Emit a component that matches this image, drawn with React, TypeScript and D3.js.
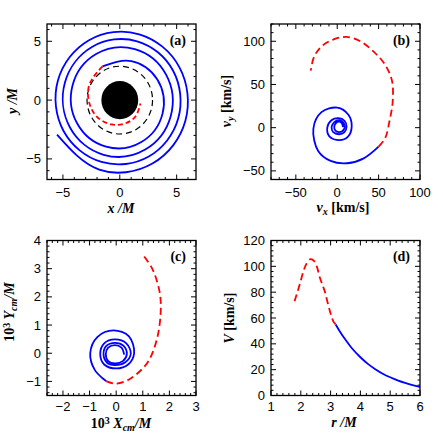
import React from "react";
import * as d3 from "d3";

// ---- panel (a): orbit in the x-y plane, stored as [angle in degrees, r/M]
const orbitInspiral: [number, number][] = [
  [208, 6.25], [253, 6.18], [298, 6.11], [343, 6.03], [388, 5.94], [433, 5.85],
  [478, 5.77], [523, 5.69], [568, 5.6], [613, 5.5], [658, 5.43], [703, 5.37],
  [748, 5.31], [793, 5.23], [838, 5.14], [883, 5.05], [928, 4.96], [973, 4.86],
  [1018, 4.76], [1063, 4.68], [1108, 4.61], [1153, 4.53], [1198, 4.44], [1243, 4.34],
  [1288, 4.24], [1333, 4.14], [1378, 4.04], [1423, 3.93], [1468, 3.74], [1513, 3.47],
  [1558, 3.24],
];
const orbitPlunge: [number, number][] = [
  [118, 3.24], [150, 3.0], [180, 2.74], [214, 2.47], [250, 2.2], [282, 2.04],
  [314, 1.96], [351, 1.84],
];
const horizonRadius = 1.62;
const iscoRadius = 2.88;

// ---- panel (b): velocity of the remnant [vx, vy] in km/s
const velInspiral: [number, number][] = [
  [7.0, 0.8], [5.5, 5.2], [2.2, 6.9], [-1.5, 5.2], [-3.6, 0.8], [-2.2, -3.5],
  [2.0, -5.2], [6.5, -3.8], [9.0, 0.8], [7.2, 6.2], [2.0, 8.6], [-3.5, 6.5],
  [-6.8, 0.6], [-4.8, -5.2], [2.0, -7.6], [8.5, -5.5], [11.3, 1.0], [8.8, 8.0],
  [1.5, 11.0], [-7.0, 8.5], [-12.0, 0.0], [-9.5, -10.0], [2.5, -14.5], [13.0, -10.5],
  [17.5, 1.5], [13.5, 15.0], [0.0, 23.2], [-19.0, 18.0], [-28.8, -1.0], [-23.0, -27.0],
  [-8.0, -38.5], [12.0, -41.2], [32.0, -35.5], [50.0, -22.0],
];
const velPlunge: [number, number][] = [
  [50, -22], [58, -12], [63, 7], [67, 30], [66, 55], [57, 74], [44, 88], [28, 100],
  [11, 105], [-5, 102], [-19, 94], [-28, 82], [-32, 66],
];

// ---- panel (c): centre-of-mass track, 10^3 X_cm/M and 10^3 Y_cm/M
const cmInspiral: [number, number][] = [
  [0.3, -0.05], [0.2, 0.2], [-0.05, 0.29], [-0.3, 0.2], [-0.39, -0.03], [-0.3, -0.28],
  [-0.05, -0.36], [0.25, -0.28], [0.4, -0.03], [0.27, 0.27], [-0.05, 0.37], [-0.37, 0.26],
  [-0.475, -0.03], [-0.35, -0.33], [-0.05, -0.42], [0.33, -0.33], [0.55, -0.02], [0.38, 0.35],
  [-0.05, 0.49], [-0.45, 0.35], [-0.6, -0.03], [-0.45, -0.4], [0.0, -0.54], [0.45, -0.4],
  [0.675, 0.0], [0.48, 0.6], [-0.1, 0.81], [-0.7, 0.58], [-0.975, 0.0], [-0.8, -0.6],
  [-0.375, -0.99],
];
const cmPlunge: [number, number][] = [
  [-0.375, -0.99], [-0.04, -1.08], [0.45, -0.95], [0.9, -0.63], [1.2, -0.3], [1.4, 0.1],
  [1.58, 0.7], [1.67, 1.4], [1.66, 2.0], [1.55, 2.5], [1.34, 3.03], [1.0, 3.5],
];

// ---- panel (d): speed V (km/s) against separation r/M
const speedPlungeR = [1.79, 1.9, 2.0, 2.1, 2.2, 2.33, 2.45, 2.55, 2.63, 2.72, 2.8, 2.91, 3.02, 3.1, 3.17];
const speedPlungeV = [73, 81, 89, 97, 102.5, 105.5, 104, 99, 92, 86, 81, 71, 62, 57, 55];
const speedInspiralR = [3.17, 3.3, 3.5, 3.7, 4.0, 4.25, 4.5, 4.75, 5.0, 5.25, 5.5, 5.75, 6.0];
const speedInspiralV = [55, 50, 43.1, 37, 29.6, 24.5, 20.4, 16.9, 14.1, 11.7, 9.7, 8.1, 6.7];

// ---- axis ticks
const ticksA = [-5, 0, 5];
const ticksBx = [-50, 0, 50, 100];
const ticksBy = [-50, 0, 50, 100];
const ticksCx = [-2, -1, 0, 1, 2, 3];
const ticksCy = [-1, 0, 1, 2, 3, 4];
const ticksDx = [1, 2, 3, 4, 5, 6];
const ticksDy = [0, 20, 40, 60, 80, 100, 120];

const BLUE = "#0000ff";
const RED = "#ff0000";
const SANS = "'Liberation Sans', Arial, sans-serif";
const SERIF = "'Liberation Serif', 'Times New Roman', serif";

const cols = [[47, 196], [271, 420]];
const rows = [[24, 179.5], [240.5, 395.5]];

type Scale = d3.ScaleLinear<number, number>;

function Frame({ xs, ys, xMajor, yMajor, xMinor, yMinor, tag, labelGap }: {
  xs: Scale; ys: Scale; xMajor: number[]; yMajor: number[]; xMinor: number; yMinor: number;
  tag: string; labelGap: number;
}) {
  const [x0, x1] = xs.range();
  const [y1, y0] = ys.range();
  const [dx0, dx1] = xs.domain();
  const [dy0, dy1] = ys.domain();
  const eps = 1e-9;
  const xm = d3.range(Math.ceil(dx0 / xMinor - eps) * xMinor, dx1 + eps, xMinor);
  const ym = d3.range(Math.ceil(dy0 / yMinor - eps) * yMinor, dy1 + eps, yMinor);
  const isMajor = (v: number, list: number[]) => list.some((m) => Math.abs(m - v) < 1e-6);
  const fmt = (v: number) => (v < 0 ? "\u2212" + Math.abs(v) : String(v));
  return (
    <g>
      {xm.map((v, i) => {
        const len = isMajor(v, xMajor) ? 5 : 2.5;
        const px = xs(v);
        return (
          <g key={"x" + i} stroke="#000" strokeWidth={1}>
            <line x1={px} x2={px} y1={y1} y2={y1 - len} />
            <line x1={px} x2={px} y1={y0} y2={y0 + len} />
          </g>
        );
      })}
      {ym.map((v, i) => {
        const len = isMajor(v, yMajor) ? 5 : 2.5;
        const py = ys(v);
        return (
          <g key={"y" + i} stroke="#000" strokeWidth={1}>
            <line x1={x0} x2={x0 + len} y1={py} y2={py} />
            <line x1={x1} x2={x1 - len} y1={py} y2={py} />
          </g>
        );
      })}
      <rect x={x0} y={y0} width={x1 - x0} height={y1 - y0} fill="none" stroke="#000" strokeWidth={1.3} />
      {xMajor.map((v) => (
        <text key={"xl" + v} x={xs(v)} y={y1 + labelGap} textAnchor="middle" fontFamily={SANS} fontSize={13}>
          {fmt(v)}
        </text>
      ))}
      {yMajor.map((v) => (
        <text key={"yl" + v} x={x0 - 6} y={ys(v) + 4.5} textAnchor="end" fontFamily={SANS} fontSize={13}>
          {fmt(v)}
        </text>
      ))}
      <text x={x1 - 10} y={y0 + 20.5} textAnchor="end" fontFamily={SERIF} fontSize={14} fontWeight="bold">
        {tag}
      </text>
    </g>
  );
}

function PanelA() {
  const xs = d3.scaleLinear().domain([-6.4, 6.7]).range(cols[0]);
  const ys = d3.scaleLinear().domain([-6.75, 6.47]).range([rows[0][1], rows[0][0]]);
  const rad = Math.PI / 180;
  const line = d3.line<[number, number]>()
    .x((d) => xs(d[1] * Math.cos(d[0] * rad)))
    .y((d) => ys(d[1] * Math.sin(d[0] * rad)))
    .curve(d3.curveNatural);
  return (
    <g>
      <ellipse cx={xs(0)} cy={ys(0)} rx={xs(horizonRadius) - xs(0)} ry={ys(0) - ys(horizonRadius)} fill="#000" />
      <ellipse cx={xs(0)} cy={ys(0)} rx={xs(iscoRadius) - xs(0)} ry={ys(0) - ys(iscoRadius)} fill="none"
        stroke="#000" strokeWidth={1.2} strokeDasharray="6,4" />
      <path d={line(orbitInspiral) ?? ""} fill="none" stroke={BLUE} strokeWidth={1.8} />
      <path d={line(orbitPlunge) ?? ""} fill="none" stroke={RED} strokeWidth={1.8} strokeDasharray="5,3" />
      <Frame xs={xs} ys={ys} xMajor={ticksA} yMajor={ticksA} xMinor={1} yMinor={1} tag="(a)" labelGap={17.5} />
      <text x={121} y={212.5} textAnchor="middle" fontFamily={SERIF} fontSize={14} fontStyle="italic" fontWeight="bold">
        x /M
      </text>
      <text transform="translate(16.5,101) rotate(-90)" textAnchor="middle" fontFamily={SERIF} fontSize={14}
        fontStyle="italic" fontWeight="bold">
        y /M
      </text>
    </g>
  );
}

function PanelB() {
  const xs = d3.scaleLinear().domain([-80, 100]).range(cols[1]);
  const ys = d3.scaleLinear().domain([-60, 120]).range([rows[0][1], rows[0][0]]);
  const line = d3.line<[number, number]>().x((d) => xs(d[0])).y((d) => ys(d[1]))
    .curve(d3.curveCatmullRom.alpha(0.5));
  return (
    <g>
      <path d={line(velInspiral) ?? ""} fill="none" stroke={BLUE} strokeWidth={1.8} />
      <path d={line(velPlunge) ?? ""} fill="none" stroke={RED} strokeWidth={1.8} strokeDasharray="7,4" />
      <Frame xs={xs} ys={ys} xMajor={ticksBx} yMajor={ticksBy} xMinor={10} yMinor={10} tag="(b)" labelGap={17.5} />
      <text x={343} y={212} textAnchor="middle" fontFamily={SERIF} fontSize={14} fontWeight="bold">
        <tspan fontStyle="italic">v</tspan>
        <tspan fontStyle="italic" fontSize={10} dy={3}>x</tspan>
        <tspan dy={-3}> [km/s]</tspan>
      </text>
      <text transform="translate(230.5,101) rotate(-90)" textAnchor="middle" fontFamily={SERIF} fontSize={14}
        fontWeight="bold">
        <tspan fontStyle="italic">v</tspan>
        <tspan fontStyle="italic" fontSize={10} dy={3}>y</tspan>
        <tspan dy={-3}> [km/s]</tspan>
      </text>
    </g>
  );
}

function PanelC() {
  const xs = d3.scaleLinear().domain([-2.6, 3]).range(cols[0]);
  const ys = d3.scaleLinear().domain([-1.5, 4]).range([rows[1][1], rows[1][0]]);
  const line = d3.line<[number, number]>().x((d) => xs(d[0])).y((d) => ys(d[1]))
    .curve(d3.curveCatmullRom.alpha(0.5));
  return (
    <g>
      <path d={line(cmInspiral) ?? ""} fill="none" stroke={BLUE} strokeWidth={1.8} />
      <path d={line(cmPlunge) ?? ""} fill="none" stroke={RED} strokeWidth={1.8} strokeDasharray="7,4" />
      <Frame xs={xs} ys={ys} xMajor={ticksCx} yMajor={ticksCy} xMinor={0.2} yMinor={0.2} tag="(c)" labelGap={15} />
      <text x={121} y={427.5} textAnchor="middle" fontFamily={SERIF} fontSize={14} fontWeight="bold">
        <tspan>10</tspan>
        <tspan fontSize={10} dy={-4}>3</tspan>
        <tspan dy={4} fontStyle="italic"> X</tspan>
        <tspan fontStyle="italic" fontSize={10} dy={3}>cm</tspan>
        <tspan fontStyle="italic" dy={-3}>/M</tspan>
      </text>
      <text transform="translate(14,312) rotate(-90)" textAnchor="middle" fontFamily={SERIF} fontSize={14}
        fontWeight="bold">
        <tspan>10</tspan>
        <tspan fontSize={10} dy={-4}>3</tspan>
        <tspan dy={4} fontStyle="italic"> Y</tspan>
        <tspan fontStyle="italic" fontSize={10} dy={3}>cm</tspan>
        <tspan fontStyle="italic" dy={-3}>/M</tspan>
      </text>
    </g>
  );
}

function PanelD() {
  const xs = d3.scaleLinear().domain([1, 6]).range(cols[1]);
  const ys = d3.scaleLinear().domain([0, 120]).range([rows[1][1], rows[1][0]]);
  const toPts = (r: number[], v: number[]) => r.map((d, i) => [d, v[i]] as [number, number]);
  const path = d3.line<[number, number]>().x((d) => xs(d[0])).y((d) => ys(d[1]))
    .curve(d3.curveCatmullRom.alpha(0.5));
  return (
    <g>
      <path d={path(toPts(speedInspiralR, speedInspiralV)) ?? ""} fill="none" stroke={BLUE} strokeWidth={1.8} />
      <path d={path(toPts(speedPlungeR, speedPlungeV)) ?? ""} fill="none" stroke={RED} strokeWidth={1.8}
        strokeDasharray="7,4" />
      <Frame xs={xs} ys={ys} xMajor={ticksDx} yMajor={ticksDy} xMinor={0.2} yMinor={4} tag="(d)" labelGap={15} />
      <text x={344} y={427} textAnchor="middle" fontFamily={SERIF} fontSize={14} fontStyle="italic" fontWeight="bold">
        r /M
      </text>
      <text transform="translate(233.5,318) rotate(-90)" textAnchor="middle" fontFamily={SERIF} fontSize={14}
        fontWeight="bold">
        <tspan fontStyle="italic">V</tspan>
        <tspan> [km/s]</tspan>
      </text>
    </g>
  );
}

export default function App() {
  return (
    <svg width={443} height={443} style={{ position: "absolute", left: 0, top: 0, background: "#fff" }}>
      <rect width={443} height={443} fill="#fff" />
      <PanelA />
      <PanelB />
      <PanelC />
      <PanelD />
    </svg>
  );
}
